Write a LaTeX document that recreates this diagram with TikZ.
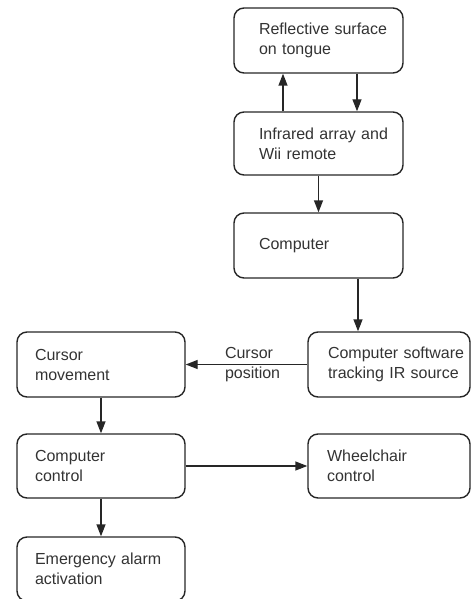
\documentclass[tikz,border=0pt]{standalone}
\usepackage{fontspec}
\setmainfont{Liberation Sans}
\usetikzlibrary{positioning}
\usetikzlibrary{arrows.meta}
\hyphenpenalty=10000
\lefthyphenmin=64

\begin{document}
\begin{tikzpicture}[x = 1pt, y = -1pt, font = \fontsize{16}{20}\selectfont,
	box/.style = {draw = black!85, line width = 1.4pt, rounded corners = 10pt, align = left, text = black!80, minimum height = 64pt},
	arr/.style = {draw = black!85, line width = 1.4pt, -{Triangle[length = 12pt, width = 9pt]}}]
	\useasboundingbox (0, 0) rectangle (471, 599);
	\node[box, inner xsep = 25pt, text width = 119pt, minimum height = 65pt] (reflect) at (318.5, 40.5) {\mbox{Reflective surface}\\on tongue};
	\node[box, inner xsep = 25pt, text width = 119pt, minimum height = 63pt] (infra) at (318.5, 143.5) {\mbox{Infrared array and}\\Wii remote};
	\node[box, inner xsep = 25pt, text width = 119pt, minimum height = 65pt] (comp) at (318.5, 245.5) {Computer};
	\node[box, inner xsep = 20pt, text width = 122pt, minimum height = 65pt] (soft) at (389, 364.5) {\mbox{Computer software}\\\mbox{tracking IR source}};
	\node[box, inner xsep = 18pt, text width = 132pt, minimum height = 65pt] (cursor) at (101, 364.5) {Cursor\\movement};
	\node[box, inner xsep = 18pt, text width = 132pt] (control) at (101, 466) {Computer\\control};
	\node[box, inner xsep = 19pt, text width = 124pt] (wheel) at (389, 466) {Wheelchair\\control};
	\node[box, inner xsep = 18pt, text width = 132pt] (alarm) at (101, 569) {Emergency alarm\\activation};
	\draw[arr] ([xshift = -35.5pt]infra.north) -- ([xshift = -35.5pt]reflect.south);
	\draw[arr] ([xshift = 38.5pt]reflect.south) -- ([xshift = 38.5pt]infra.north);
	\draw[arr] (infra.south) -- (comp.north);
	\draw[arr] ([xshift = 39.5pt]comp.south) -- ([xshift = -31pt]soft.north);
	\draw[arr] (soft.west) -- node[pos = 0.45, align = left, text = black!80] (curpos) {Cursor\\position} (cursor.east);
	\draw[arr] (cursor.south) -- (control.north);
	\draw[arr] (control.east) -- (wheel.west);
	\draw[arr] (control.south) -- (alarm.north);
\end{tikzpicture}
\end{document}
